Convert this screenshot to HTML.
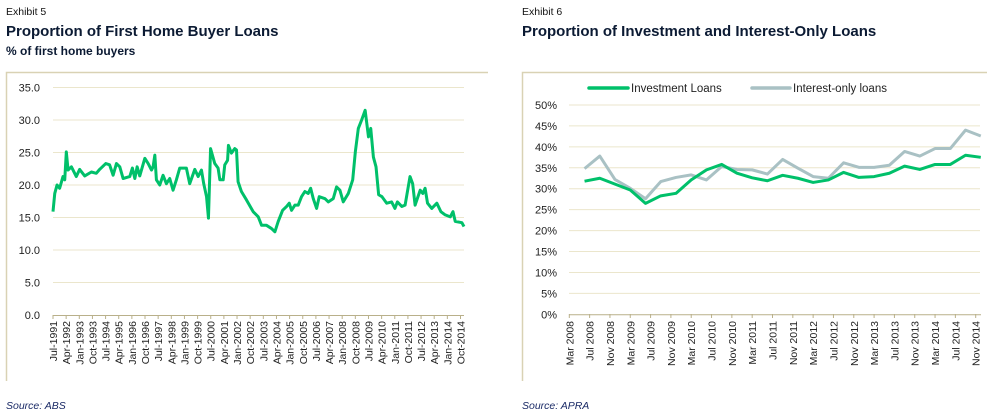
<!DOCTYPE html>
<html><head><meta charset="utf-8"><style>
body{margin:0;width:987px;height:416px;background:#fff;overflow:hidden;font-family:"Liberation Sans",sans-serif}
svg{display:block}
</style></head><body>
<svg id="c" width="987" height="416" xmlns="http://www.w3.org/2000/svg">
<text x="6" y="15" font-size="10.5" fill="#111">Exhibit 5</text>
<text x="6" y="36" font-size="15" font-weight="bold" fill="#0b1a33">Proportion of First Home Buyer Loans</text>
<text x="6" y="55" font-size="12" font-weight="bold" fill="#0b1a33">% of first home buyers</text>
<text x="6" y="409" font-size="10.5" font-style="italic" fill="#1a2a66">Source: ABS</text>
<text x="522" y="15" font-size="10.5" fill="#111">Exhibit 6</text>
<text x="522" y="36" font-size="15" font-weight="bold" fill="#0b1a33">Proportion of Investment and Interest-Only Loans</text>
<text x="522" y="409" font-size="10.5" font-style="italic" fill="#1a2a66">Source: APRA</text>
<path d="M6.5 381V72.5H488" fill="none" stroke="#d9d2b4" stroke-width="1.5"/>
<path d="M522.5 381V72.5H987" fill="none" stroke="#d9d2b4" stroke-width="1.5"/>
<g id="g1"></g><g id="g2"></g>
</svg>
<script>
// Chart 1 data
const fhbDates=[1991.5,1991.6,1991.73,1991.88,1992.07,1992.17,1992.26,1992.36,1992.55,1992.83,1993.02,1993.31,1993.69,1993.97,1994.16,1994.51,1994.73,1994.93,1995.12,1995.31,1995.5,1995.88,1996.03,1996.17,1996.3,1996.45,1996.74,1996.93,1997.12,1997.21,1997.31,1997.4,1997.59,1997.78,1997.97,1998.16,1998.35,1998.54,1998.73,1999.11,1999.3,1999.59,1999.78,1999.97,2000.1,2000.26,2000.37,2000.49,2000.73,2000.92,2001.02,2001.21,2001.3,2001.46,2001.51,2001.68,2001.87,2001.97,2002.06,2002.25,2002.54,2002.92,2003.21,2003.4,2003.68,2003.97,2004.16,2004.35,2004.6,2004.83,2004.98,2005.11,2005.3,2005.49,2005.68,2005.87,2006.06,2006.2,2006.35,2006.54,2006.69,2007.02,2007.21,2007.49,2007.68,2007.87,2008.06,2008.35,2008.6,2008.75,2008.92,2009.11,2009.31,2009.5,2009.63,2009.78,2009.93,2010.08,2010.27,2010.54,2010.82,2011.01,2011.15,2011.4,2011.59,2011.87,2012.02,2012.16,2012.45,2012.6,2012.73,2012.87,2013.11,2013.4,2013.63,2013.88,2014.17,2014.32,2014.45,2014.83,2014.95];
const fhbValues=[15.9,18.7,20.0,19.5,21.3,20.8,25.1,22.3,22.8,21.3,22.4,21.4,22.0,21.8,22.4,23.3,23.1,21.5,23.3,22.8,21.0,21.3,22.6,21.0,22.8,21.4,24.1,23.3,22.3,22.8,24.6,20.8,20.0,21.5,20.2,21.0,19.2,20.8,22.6,22.6,20.2,22.4,21.3,22.3,20.2,18.2,14.9,25.6,23.3,22.6,20.8,20.8,23.1,23.8,26.1,24.9,25.6,25.4,20.5,19.0,17.7,15.9,15.1,13.8,13.8,13.3,12.8,14.4,16.1,16.7,17.2,16.1,16.9,16.9,18.2,19.0,18.7,19.5,17.9,16.4,18.2,17.9,17.4,17.9,19.7,19.2,17.4,18.7,20.8,25.1,28.7,30.0,31.5,27.4,28.7,24.3,22.8,18.5,18.2,17.2,17.4,16.4,17.4,16.7,16.9,21.3,20.2,16.9,19.2,18.7,19.5,17.2,16.4,17.2,15.9,15.4,15.1,15.9,14.4,14.2,13.6];
const fhbTicks=[0,5,10,15,20,25,30,35];
const fhbMonths=['Jan','Apr','Jul','Oct'];
// Chart 2 data
const q2Labels=['Mar 2008','Jul 2008','Nov 2008','Mar 2009','Jul 2009','Nov 2009','Mar 2010','Jul 2010','Nov 2010','Mar 2011','Jul 2011','Nov 2011','Mar 2012','Jul 2012','Nov 2012','Mar 2013','Jul 2013','Nov 2013','Mar 2014','Jul 2014','Nov 2014'];
const invValues=[31.8,32.5,31.1,29.7,26.5,28.3,28.9,32.1,34.5,35.8,33.7,32.6,31.9,33.2,32.5,31.5,32.1,33.9,32.7,32.9,33.7,35.4,34.6,35.8,35.8,38.0,37.5];
const ioValues=[34.8,37.8,32.2,30.1,27.6,31.7,32.7,33.3,32.1,35.3,34.6,34.5,33.5,37.0,34.9,32.9,32.5,36.2,35.1,35.1,35.6,38.9,37.8,39.6,39.6,44.0,42.6];
const pctTicks=[0,5,10,15,20,25,30,35,40,45,50];

const NS='http://www.w3.org/2000/svg';
function mk(p,t,a){const e=document.createElementNS(NS,t);for(const k in a)e.setAttribute(k,a[k]);p.appendChild(e);return e;}

// Chart 1
const g1=document.getElementById('g1');
const x1=t=>53+(t-1991.5)*(411/23.45);
const y1=v=>315-v*6.5;
fhbTicks.forEach(v=>{
 if(v>0){const l=mk(g1,'line',{x1:53,x2:464,y1:y1(v),y2:y1(v),stroke:'#ebe6cc','stroke-width':1});
 
 }
 const t=mk(g1,'text',{x:40,y:y1(v)+4,'font-size':11,'text-anchor':'end',fill:'#222'});t.textContent=v.toFixed(1);
 
 
});
const ax1=mk(g1,'line',{x1:53,x2:464,y1:315.5,y2:315.5,stroke:'#b9b08a','stroke-width':1});


for(let m=0;m<=279;m+=9){
 const t=1991.5+m/12, xx=x1(t);
 mk(g1,'line',{x1:xx,x2:xx,y1:315,y2:319,stroke:'#b9b08a'});
 const mo=(6+m)%12, yr=1991+Math.floor((6+m)/12);
 const lab=mk(g1,'text',{x:0,y:0,'font-size':10.5,'text-anchor':'end',fill:'#222',transform:`translate(${xx+4},321) rotate(-90)`});
 lab.textContent=fhbMonths[mo/3]+'-'+yr;
 
 
}
const p1=mk(g1,'polyline',{points:fhbDates.map((d,i)=>x1(d)+','+y1(fhbValues[i])).join(' '),fill:'none',stroke:'#00c06a','stroke-width':3,'stroke-linejoin':'round'});



// Chart 2
const g2=document.getElementById('g2');
const m2=5.08, x2=mo=>569.3+mo*m2;
const y2=v=>314.3-v*(209.3/50);
pctTicks.forEach(v=>{
 if(v>0){const l=mk(g2,'line',{x1:569,x2:980,y1:y2(v),y2:y2(v),stroke:'#ebe6cc','stroke-width':1});
 
 }
 const t=mk(g2,'text',{x:557,y:y2(v)+4,'font-size':11,'text-anchor':'end',fill:'#222'});t.textContent=v+'%';
 
 
});
const ax2=mk(g2,'line',{x1:569,x2:981,y1:314.8,y2:314.8,stroke:'#b9b08a'});


q2Labels.forEach((s,i)=>{
 const xx=x2(i*4);
 mk(g2,'line',{x1:xx,x2:xx,y1:314,y2:318,stroke:'#b9b08a'});
 const lab=mk(g2,'text',{x:0,y:0,'font-size':10.5,'text-anchor':'end',fill:'#222',transform:`translate(${xx+4},321) rotate(-90)`});
 lab.textContent=s;
 
 
});
const qx=i=>x2(3+i*3);
const pio=mk(g2,'polyline',{points:ioValues.map((v,i)=>qx(i)+','+y2(v)).join(' '),fill:'none',stroke:'#a9c1c4','stroke-width':3,'stroke-linejoin':'round'});


const pinv=mk(g2,'polyline',{points:invValues.map((v,i)=>qx(i)+','+y2(v)).join(' '),fill:'none',stroke:'#00c06a','stroke-width':3,'stroke-linejoin':'round'});


// legend
const l1=mk(g2,'line',{x1:589,x2:628,y1:88,y2:88,stroke:'#00c06a','stroke-width':3.5,'stroke-linecap':'round'});


const t1=mk(g2,'text',{x:631,y:92,'font-size':11.5,fill:'#222'});t1.textContent='Investment Loans';


const l2=mk(g2,'line',{x1:752,x2:790,y1:88,y2:88,stroke:'#a9c1c4','stroke-width':3.5,'stroke-linecap':'round'});


const t2=mk(g2,'text',{x:793,y:92,'font-size':11.5,fill:'#222'});t2.textContent='Interest-only loans';


</script>
</body></html>
